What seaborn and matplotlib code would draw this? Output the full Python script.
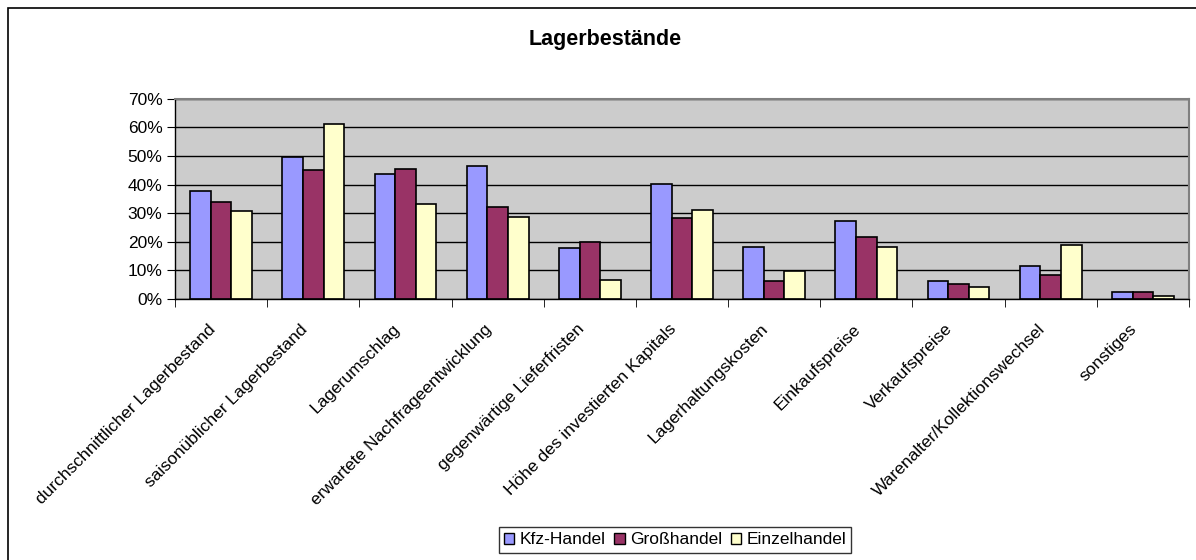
import pandas as pd
import numpy as np
import seaborn as sns
import matplotlib.pyplot as plt
from matplotlib.patches import Rectangle
from matplotlib.ticker import PercentFormatter

categories = ["durchschnittlicher Lagerbestand", "saisonüblicher Lagerbestand",
              "Lagerumschlag", "erwartete Nachfrageentwicklung",
              "gegenwärtige Lieferfristen", "Höhe des investierten Kapitals",
              "Lagerhaltungskosten", "Einkaufspreise", "Verkaufspreise",
              "Warenalter/Kollektionswechsel", "sonstiges"]
kfz = [37.8, 49.8, 43.7, 46.4, 17.7, 40.3, 18.2, 27.4, 6.3, 11.5, 2.4]
gross = [34.0, 45.0, 45.5, 32.1, 20.0, 28.3, 6.3, 21.5, 5.2, 8.3, 2.4]
einzel = [30.6, 61.3, 33.1, 28.7, 6.8, 31.1, 9.7, 18.3, 4.3, 18.7, 0.9]
series = ["Kfz-Handel", "Großhandel", "Einzelhandel"]
colors = ["#9999FF", "#993366", "#FFFFCC"]

df = pd.DataFrame({"Kategorie": categories * 3,
                   "Handel": np.repeat(series, len(categories)),
                   "Anteil": kfz + gross + einzel})

sns.set_style("white")
plt.rcParams["font.family"] = ["Liberation Sans", "DejaVu Sans"]
plt.rcParams["text.color"] = "black"
plt.rcParams["xtick.color"] = "black"
plt.rcParams["ytick.color"] = "black"

fig = plt.figure(figsize=(11.96, 5.6), dpi=100)
ax = fig.add_axes([175 / 1196, 1 - 299 / 560, (1189 - 175) / 1196, (299 - 98.7) / 560])

sns.barplot(data=df, x="Kategorie", y="Anteil", hue="Handel", palette=colors,
            saturation=1, width=0.67, gap=0, edgecolor="black", linewidth=1.2,
            legend=False, ax=ax)

ax.set_facecolor("#CCCCCC")
ax.set_ylim(0, 70)
ax.set_xlim(-0.5, len(categories) - 0.5)
ax.set_yticks(range(0, 71, 10))
ax.yaxis.set_major_formatter(PercentFormatter(decimals=0))
ax.grid(axis="y", color="black", linewidth=1)
ax.set_axisbelow(True)
ax.set_xlabel("")
ax.set_ylabel("")

# labels sit a little left of the group centre, like the original
ax.set_xticks(np.arange(len(categories)) - 0.09)
ax.set_xticklabels(categories, rotation=45, ha="right", va="center",
                   rotation_mode="anchor", fontsize=12.5)
ax.tick_params(axis="x", which="major", length=0, pad=20)
ax.set_xticks(np.arange(len(categories) + 1) - 0.5, minor=True)
ax.tick_params(axis="x", which="minor", length=6, direction="out", bottom=True, color="black")
ax.tick_params(axis="y", length=6, direction="out", left=True, labelsize=12.5, color="black", pad=3)

for side in ["left", "bottom"]:
    ax.spines[side].set_color("black")
    ax.spines[side].set_linewidth(1)
for side in ["top", "right"]:
    ax.spines[side].set_color("#808080")
    ax.spines[side].set_linewidth(1.5)

fig.text(605 / 1196, 1 - 40 / 560, "Lagerbestände", ha="center", va="center",
         fontsize=15.5, fontweight="bold")

# chart frame
fig.patches.append(Rectangle((8 / 1196, -0.01), 1.02, 1 - 8 / 560 + 0.01,
                             transform=fig.transFigure, fill=False,
                             edgecolor="black", linewidth=1.2))

handles = [Rectangle((0, 0), 1, 1, facecolor=c, edgecolor="black", linewidth=1) for c in colors]
leg = fig.legend(handles, series, loc="center", bbox_to_anchor=(675 / 1196, 1 - 540 / 560),
                 ncol=3, frameon=True, fancybox=False, edgecolor="black",
                 fontsize=12.5, handlelength=0.6, handleheight=0.6, handletextpad=0.3,
                 columnspacing=0.5, borderpad=0.3)
leg.get_frame().set_linewidth(1)

fig.savefig("out.png", dpi=100)
